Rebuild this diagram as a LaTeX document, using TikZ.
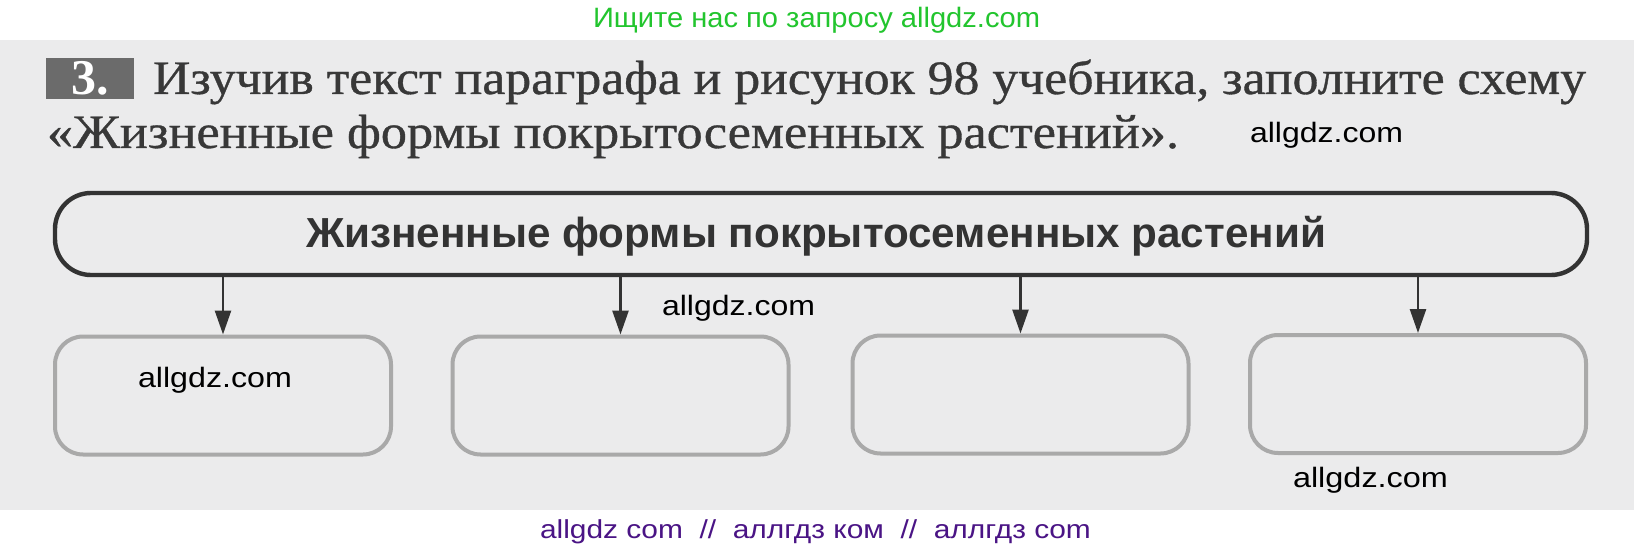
\documentclass[tikz,border=0pt]{standalone}
\usepackage{fontspec}
\usepackage{graphicx}
\setmainfont{Liberation Serif}
\newfontfamily\bookfont[FakeBold=0.7]{Liberation Serif}
\newfontfamily\wmfont{Liberation Sans}
\usetikzlibrary{arrows.meta}
\definecolor{pagebg}{HTML}{EBEBEC}
\definecolor{boxline}{HTML}{A9A9A9}
\definecolor{darkline}{HTML}{333333}
\definecolor{wmgreen}{HTML}{22C52E}
\definecolor{wmpurple}{HTML}{4A1485}
\definecolor{numbg}{HTML}{6B6B6B}
\definecolor{printtext}{HTML}{383838}
\newcommand{\fitw}[2]{\resizebox{#1}{\height}{#2}}
\begin{document}
\begin{tikzpicture}[x=0.5pt,y=-0.5pt,
  txt/.style={inner sep=0pt, outer sep=0pt, anchor=base west},
  wmark/.style={txt, font=\wmfont\fontsize{14pt}{14pt}\selectfont, text=black},
  answer/.style={draw=boxline, line width=2pt, rounded corners=14pt,
     minimum width=168pt, minimum height=59pt, inner sep=0pt},
  headbox/.style={draw=darkline, line width=2.2pt, rounded corners=18pt,
     minimum width=766pt, minimum height=41pt, inner sep=0pt},
  numbox/.style={fill=numbg, minimum width=44pt, minimum height=20.5pt, inner sep=0pt,
     text=white, font=\bfseries\fontsize{25pt}{25pt}\selectfont},
  arr/.style={draw=darkline, line width=1.3pt, -{Triangle[length=12pt,width=8pt]}}
]
\useasboundingbox (0,0) rectangle (1634,551);
\fill[white] (0,0) rectangle (1634,551);
\fill[pagebg] (0,40) rectangle (1634,510);

% watermark top
\node[txt, text=wmgreen, font=\wmfont\fontsize{14pt}{14pt}\selectfont] (wtop) at (593,28)
  {\fitw{223.5pt}{Ищите нас по запросу allgdz.com}};

% task header
\node[numbox] (num) at (90,78.5) {3.};
\node[txt, text=printtext] (l1) at (153,94)
  {\fitw{716.5pt}{\bookfont\fontsize{24pt}{24pt}\selectfont Изучив текст параграфа и рисунок 98 учебника, заполните схему}};
\node[txt, text=printtext] (l2) at (47,148)
  {\fitw{566pt}{\bookfont\fontsize{24pt}{24pt}\selectfont «Жизненные формы покрытосеменных растений».}};

% main box
\node[headbox] (title) at (821,234) {};
\node[txt, text=darkline] (ttl) at (306,248)
  {\fitw{510pt}{\wmfont\bfseries\fontsize{21pt}{21pt}\selectfont Жизненные формы покрытосеменных растений}};

% answer boxes
\node[answer] (b1) at (223,395.5) {};
\node[answer] (b2) at (620.5,395.5) {};
\node[answer] (b3) at (1020.5,394.5) {};
\node[answer] (b4) at (1418,394) {};

\foreach \b in {b1,b2,b3,b4}
  \draw[arr] (title.south -| \b.north) -- (\b.north);

% watermarks
\node[wmark] (w1) at (138,387) {\fitw{77pt}{allgdz.com}};
\node[wmark] (w2) at (662,315) {\fitw{76.5pt}{allgdz.com}};
\node[wmark] (w3) at (1250,143) {\fitw{76.5pt}{allgdz.com}};
\node[wmark] (w4) at (1293,487) {\fitw{77.5pt}{allgdz.com}};

\node[txt, text=wmpurple, font=\wmfont\fontsize{13pt}{13pt}\selectfont] (wbot) at (540,538)
  {\fitw{275.5pt}{allgdz com~ //~ аллгдз ком~ //~ аллгдз com}};
\end{tikzpicture}
\end{document}
